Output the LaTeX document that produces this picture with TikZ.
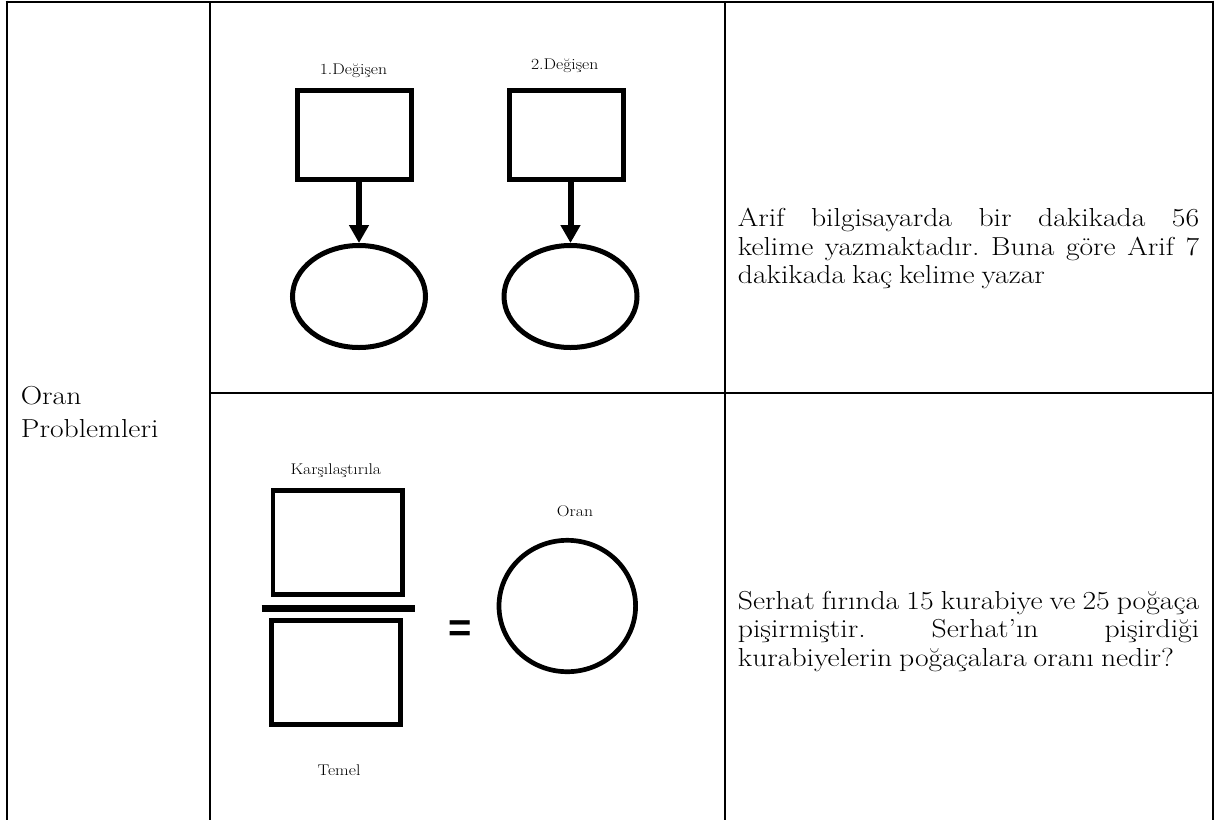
\documentclass[tikz,border=0pt]{standalone}
\usepackage{fontspec}
\setmainfont{Latin Modern Roman}[FakeStretch=1.14]
\newfontfamily\eqfont{Liberation Sans}
\usetikzlibrary{shapes.geometric,arrows.meta}
\hyphenpenalty=10000
\tolerance=10000
\frenchspacing
\newcommand\tightspaces{\spaceskip=.27em plus .6em minus .05em\relax}

\begin{document}
\begin{tikzpicture}[x=1pt,y=-1pt,
  rule/.style={line width=2pt},
  slot/.style={draw,line width=5pt,minimum width=114pt,minimum height=89pt,inner sep=0pt,outer sep=2.5pt},
  answer/.style={draw,ellipse,line width=5pt,minimum width=133pt,minimum height=102pt,inner sep=0pt,outer sep=2.5pt},
  flow/.style={line width=6pt,-{Triangle[length=18pt,width=19pt]}},
  fracbox/.style={draw,line width=4.7pt,minimum width=129.5pt,minimum height=104pt,inner sep=0pt},
  fracbar/.style={line width=6.7pt},
  ratio/.style={draw,ellipse,line width=4.7pt,minimum width=136.6pt,minimum height=131.4pt,inner sep=0pt},
  tag/.style={inner sep=0pt,anchor=base,font=\fontsize{15.5}{19}\selectfont},
  body/.style={text width=461.3pt,align=justify,inner sep=0pt,anchor=base west,
    font=\fontsize{26}{28.5}\selectfont},
]
\useasboundingbox (0,0) rectangle (1215,820);

% table rules
\draw[rule] (5.5,1.7) -- (1212.5,1.7);
\draw[rule] (6.5,0.7) -- (6.5,820);
\draw[rule] (210,1.7) -- (210,820);
\draw[rule] (724.5,1.7) -- (724.5,820);
\draw[rule] (1212.5,0.7) -- (1212.5,820);
\draw[rule] (210,393) -- (1212.5,393);

% left column heading
\node[inner sep=0pt,anchor=base west,align=left,font=\fontsize{26}{33}\selectfont] (title) at (20.7,437) {Oran\\Problemleri};

% upper cell: two variables, each with its value
\node[slot] (b1) at (354.5,135) {};
\node[slot] (b2) at (566.5,134.5) {};
\node[answer] (e1) at (359,296.5) {};
\node[answer] (e2) at (570.5,296.5) {};
\node[tag] (l1) at (353.5,74.3) {1.Değişen};
\node[tag] (l2) at (564.7,69) {2.Değişen};
\draw[flow] (b1.south -| e1.north) -- (e1.north);
\draw[flow] (b2.south -| e2.north) -- (e2.north);

% lower cell: compared quantity over base equals ratio
\node[fracbox] (top) at (337.8,542.8) {};
\node[fracbox] (base) at (336,672.5) {};
\draw[fracbar] (261.7,608.3) -- (415,608.3);
\node[inner sep=0pt,anchor=base,font=\eqfont\bfseries\fontsize{40}{44}\selectfont] (eq) at (460,641) {=};
\node[ratio] (r) at (567.3,606) {};
\node[tag] (lk) at (335.8,474) {Karşılaştırıla};
\node[tag] (lo) at (575,516.7) {Oran};
\node[tag] (lt) at (339,775) {Temel};

% problem texts
\node[body] (q1) at (737.7,226.7) {\tightspaces Arif bilgisayarda bir dakikada 56\linebreak kelime yazmaktadır. Buna göre Arif 7\linebreak dakikada kaç kelime yazar};
\node[body] (q2) at (737.7,609.3) {\tightspaces Serhat fırında 15 kurabiye ve 25 poğaça\linebreak pişirmiştir. Serhat’ın pişirdiği\linebreak kurabiyelerin poğaçalara oranı nedir?};
\end{tikzpicture}
\end{document}
